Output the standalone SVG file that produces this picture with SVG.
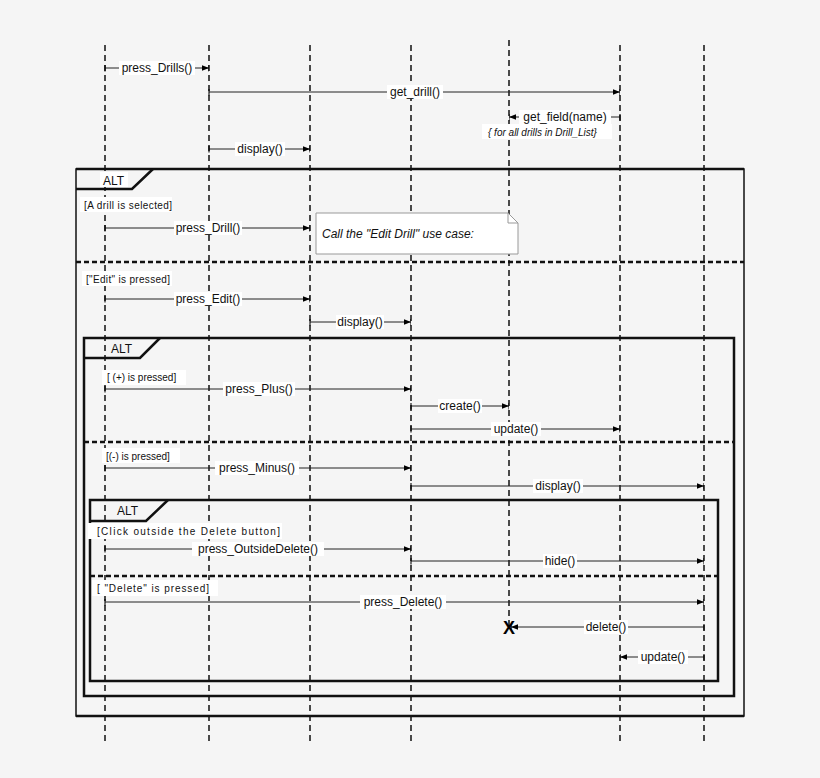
<svg xmlns="http://www.w3.org/2000/svg" width="820" height="778" viewBox="0 0 820 778">
<defs>
<marker id="a" viewBox="0 0 10 10" refX="10" refY="5" markerWidth="7" markerHeight="7" orient="auto"><path d="M0,1 L10,5 L0,9 z" fill="#000"/><path d="M10,0 V10" stroke="#000" stroke-width="1.5"/></marker>
<marker id="t" viewBox="0 0 2 10" refX="1" refY="5" markerWidth="2" markerHeight="7" orient="auto"><path d="M1,0 V10" stroke="#000" stroke-width="1.5"/></marker>
</defs>
<style>
.ll{stroke:#111;stroke-width:1.5;stroke-dasharray:6,4}
.m{stroke:#222;stroke-width:1;fill:none;marker-end:url(#a);marker-start:url(#t)}
.l{font-family:"Liberation Sans",Arial,sans-serif;font-size:12px;fill:#111}
.g{font-family:"Liberation Sans",Arial,sans-serif;font-size:10px;fill:#111}
.bg{fill:#fff}
.fr{fill:none;stroke:#111;stroke-width:2.5}
.sep{stroke:#111;stroke-width:2.5;stroke-dasharray:5,3}
</style>
<rect width="820" height="778" fill="#f5f5f5"/>
<g id="lifelines">
<line class="ll" x1="105" y1="45" x2="105" y2="742"/>
<line class="ll" x1="209" y1="45" x2="209" y2="742"/>
<line class="ll" x1="310" y1="45" x2="310" y2="742"/>
<line class="ll" x1="411" y1="45" x2="411" y2="742"/>
<line class="ll" x1="509" y1="40" x2="509" y2="628"/>
<line class="ll" x1="620" y1="45" x2="620" y2="742"/>
<line class="ll" x1="704" y1="45" x2="704" y2="742"/>
</g>
<g id="frames">
<rect x="76" y="169" width="668" height="547" fill="none" stroke="#111" stroke-width="1.5"/>
<line x1="76" y1="169" x2="744" y2="169" stroke="#111" stroke-width="2.5"/>
<line x1="76" y1="716" x2="744" y2="716" stroke="#111" stroke-width="2.5"/>
<path d="M76,189 H132 L153,169" fill="none" stroke="#111" stroke-width="2.5"/>
<rect class="bg" x="100" y="172" width="28" height="15"/>
<text class="l" x="103" y="185">ALT</text>
<line class="sep" x1="76" y1="262" x2="744" y2="262"/>
<rect class="fr" x="84" y="338" width="650" height="358"/>
<path d="M84,358 H140 L160,338" fill="none" stroke="#111" stroke-width="2.5"/>
<text class="l" x="111" y="353">ALT</text>
<line class="sep" x1="84" y1="442" x2="734" y2="442"/>
<rect class="fr" x="90" y="500" width="628" height="181"/>
<path d="M90,521 H146 L168,500" fill="none" stroke="#111" stroke-width="2.5"/>
<text class="l" x="117" y="515">ALT</text>
<line class="sep" x1="90" y1="576" x2="718" y2="576"/>
</g>
<g id="note">
<path d="M316,213 H508 L518,223 V254 H316 Z" fill="#fff" stroke="#999"/>
<path d="M508,213 V223 H518" fill="none" stroke="#999"/>
<text class="l" x="322" y="238" font-style="italic">Call the "Edit Drill" use case:</text>
</g>
<g id="guards">
<rect class="bg" x="80" y="197" width="92" height="15"/><text class="g" x="84" y="209" textLength="88">[A drill is selected]</text>
<rect class="bg" x="82" y="271" width="90" height="15"/><text class="g" x="86" y="283" textLength="84">["Edit" is pressed]</text>
<rect class="bg" x="102" y="370" width="84" height="15"/><text class="g" x="107" y="381">[ (+) is pressed]</text>
<rect class="bg" x="102" y="448" width="78" height="15"/><text class="g" x="106" y="460">[(-) is pressed]</text>
<rect class="bg" x="88" y="523" width="194" height="16"/><text class="g" x="97" y="535" textLength="183">[Click outside the Delete button]</text>
<rect class="bg" x="92" y="580" width="126" height="16"/><text class="g" x="97" y="592" textLength="112">[ "Delete" is pressed]</text>
<rect class="bg" x="482" y="124" width="130" height="15"/><text class="g" x="488" y="136" font-style="italic">{ for all drills in Drill_List}</text>
</g>
<g id="connectors">
<line class="m" x1="105" y1="68" x2="209" y2="68"/>
<line class="m" x1="209" y1="92" x2="620" y2="92"/>
<line class="m" x1="620" y1="117" x2="509" y2="117"/>
<line class="m" x1="209" y1="149" x2="310" y2="149"/>
<line class="m" x1="105" y1="228" x2="310" y2="228"/>
<line class="m" x1="105" y1="299" x2="310" y2="299"/>
<line class="m" x1="310" y1="322" x2="411" y2="322"/>
<line class="m" x1="105" y1="389" x2="411" y2="389"/>
<line class="m" x1="411" y1="406" x2="509" y2="406"/>
<line class="m" x1="411" y1="429" x2="620" y2="429"/>
<line class="m" x1="105" y1="468" x2="411" y2="468"/>
<line class="m" x1="411" y1="486" x2="704" y2="486"/>
<line class="m" x1="105" y1="549" x2="411" y2="549"/>
<line class="m" x1="411" y1="561" x2="704" y2="561"/>
<line class="m" x1="105" y1="602" x2="704" y2="602"/>
<line class="m" x1="704" y1="627" x2="511" y2="627"/>
<line class="m" x1="704" y1="657" x2="620" y2="657"/>
<text x="509" y="634" font-family="Liberation Sans,Arial,sans-serif" font-size="18" font-weight="bold" text-anchor="middle">X</text>
</g>
<g id="labels" font-family="Liberation Sans,Arial,sans-serif" font-size="12" text-anchor="middle">
<g class="bg"><rect x="119" y="61" width="76" height="14"/><rect x="387" y="85" width="56" height="14"/><rect x="519" y="110" width="92" height="14"/><rect x="235" y="142" width="50" height="14"/><rect x="174" y="221" width="68" height="14"/><rect x="174" y="292" width="68" height="14"/><rect x="336" y="315" width="48" height="14"/><rect x="223" y="382" width="72" height="14"/><rect x="438" y="399" width="44" height="14"/><rect x="491" y="422" width="50" height="14"/><rect x="215" y="461" width="84" height="14"/><rect x="533" y="479" width="50" height="14"/><rect x="192" y="542" width="132" height="14"/><rect x="543" y="554" width="34" height="14"/><rect x="360" y="595" width="86" height="14"/><rect x="584" y="620" width="44" height="14"/><rect x="638" y="650" width="50" height="14"/></g>
<g fill="#111">
<text x="157" y="72">press_Drills()</text>
<text x="415" y="96">get_drill()</text>
<text x="565" y="121">get_field(name)</text>
<text x="260" y="153">display()</text>
<text x="208" y="232">press_Drill()</text>
<text x="208" y="303">press_Edit()</text>
<text x="360" y="326">display()</text>
<text x="259" y="393">press_Plus()</text>
<text x="460" y="410">create()</text>
<text x="516" y="433">update()</text>
<text x="257" y="472">press_Minus()</text>
<text x="558" y="490">display()</text>
<text x="258" y="553">press_OutsideDelete()</text>
<text x="560" y="565">hide()</text>
<text x="403" y="606">press_Delete()</text>
<text x="606" y="631">delete()</text>
<text x="663" y="661">update()</text>
</g>
</g>
</svg>
